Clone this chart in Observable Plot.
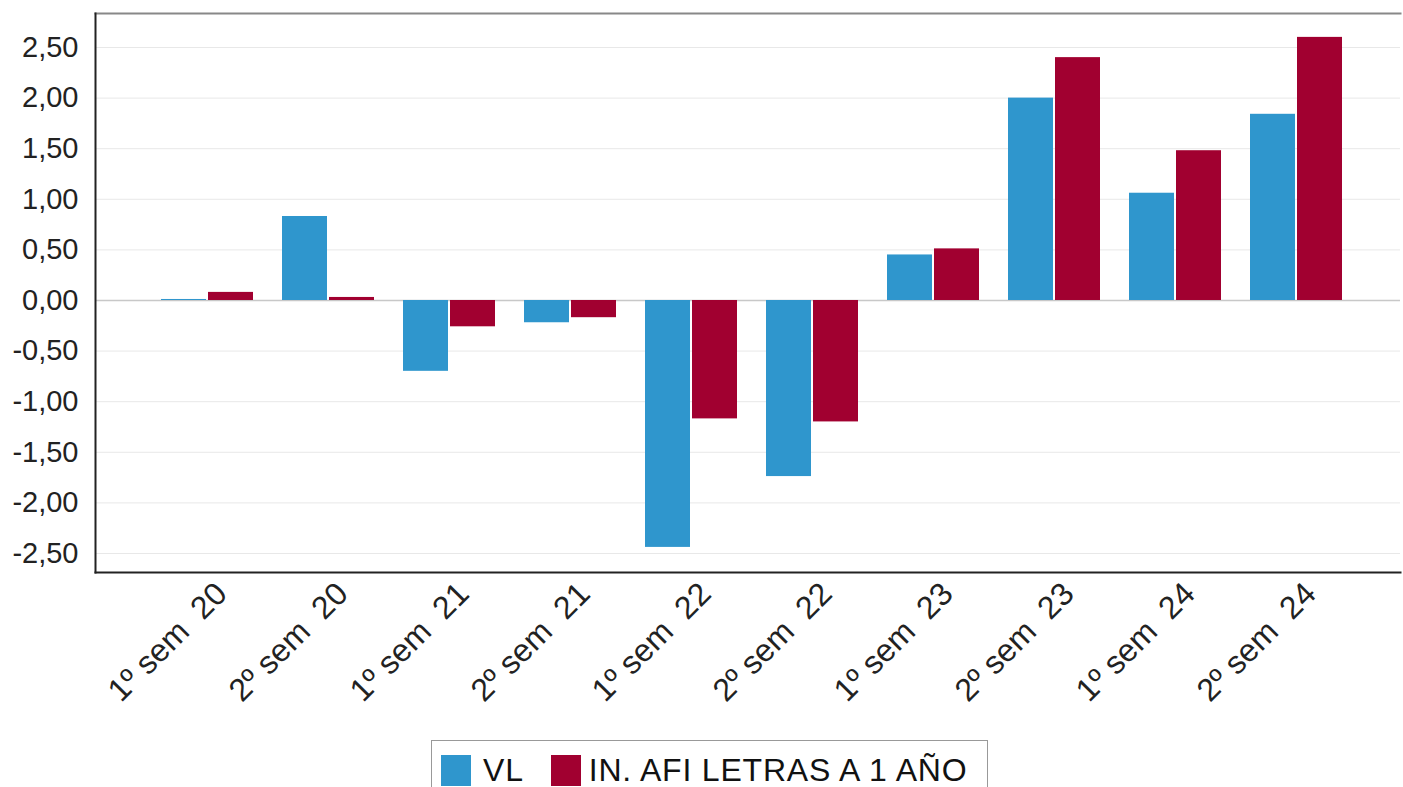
<!DOCTYPE html>
<html>
<head>
<meta charset="utf-8">
<script src="https://cdn.jsdelivr.net/npm/d3@7"></script>
<script src="https://cdn.jsdelivr.net/npm/@observablehq/plot@0.6"></script>
<style>
  html, body { margin: 0; padding: 0; background: #fff; font-family: "Liberation Sans", Arial, sans-serif; }
  #chart svg { display: block; }
  #legend { margin-left: 431px; margin-top: 10px; width: 557px; height: 60px; border: 1px solid #999; box-sizing: border-box; display: flex; align-items: flex-start; padding: 13px 0 0 9px; font-size: 32px; color: #111; letter-spacing: 0.8px; }
  .sw { display: inline-block; width: 30px; height: 31px; margin-right: 12px; }
  .item { display: flex; align-items: center; height: 32px; }
  .item:first-child { margin-right: 27px; }
  .item:last-child .sw { margin-right: 8px; }
</style>
</head>
<body>
<div id="chart"></div>
<div id="legend"></div>
<script>
const categories = ["1º sem \u00a020","2º sem \u00a020","1º sem \u00a021","2º sem \u00a021","1º sem \u00a022","2º sem \u00a022","1º sem \u00a023","2º sem \u00a023","1º sem \u00a024","2º sem \u00a024"];
const vl = [0.01, 0.83, -0.70, -0.22, -2.44, -1.74, 0.45, 2.00, 1.06, 1.84];
const afi = [0.08, 0.03, -0.26, -0.17, -1.17, -1.20, 0.51, 2.40, 1.48, 2.60];
const seriesNames = ["VL", "IN. AFI LETRAS A 1 AÑO"];
const colors = ["#2f96cd", "#a10030"];
const yTicks = [-2.5, -2, -1.5, -1, -0.5, 0, 0.5, 1, 1.5, 2, 2.5];

const rowsVL = categories.map((c, i) => ({cat: c, v: vl[i]}));
const rowsAFI = categories.map((c, i) => ({cat: c, v: afi[i]}));
const fmt = d => d.toFixed(2).replace(".", ",");

const plot = Plot.plot({
  width: 1403,
  height: 730,
  marginTop: 13,
  marginLeft: 95,
  marginRight: 3,
  marginBottom: 158,
  style: {fontFamily: "'Liberation Sans', Arial, sans-serif", fontSize: "29px", color: "#222", background: "#fff"},
  x: {domain: categories, insetLeft: 49, insetRight: 41, paddingInner: 0.24, paddingOuter: 0.12, label: null},
  y: {domain: [-2.688, 2.836], label: null},
  marks: [
    Plot.gridY(yTicks, {stroke: "#e8e8e8", strokeOpacity: 1}),
    Plot.ruleY([0], {stroke: "#c8c8c8", strokeWidth: 1.5}),
    Plot.barY(rowsVL, {x: "cat", y: "v", fill: colors[0], insetRight: 47}),
    Plot.barY(rowsAFI, {x: "cat", y: "v", fill: colors[1], insetLeft: 47}),
    Plot.axisY(yTicks, {tickSize: 0, tickPadding: 17, tickFormat: fmt, fontSize: 29}),
    Plot.axisX({tickSize: 0, tickRotate: -45, tickPadding: 16, dx: 14, fontSize: 32}),
    Plot.frame({anchor: "top", stroke: "#888", strokeWidth: 2}),
    Plot.frame({anchor: "left", stroke: "#222", strokeWidth: 2}),
    Plot.frame({anchor: "bottom", stroke: "#222", strokeWidth: 2})
  ]
});
document.getElementById("chart").appendChild(plot);
const leg = document.getElementById("legend");
seriesNames.forEach((n, i) => {
  const it = document.createElement("div");
  it.className = "item";
  const sw = document.createElement("span");
  sw.className = "sw";
  sw.style.background = colors[i];
  it.appendChild(sw);
  it.appendChild(document.createTextNode(n));
  leg.appendChild(it);
});
</script>
</body>
</html>
